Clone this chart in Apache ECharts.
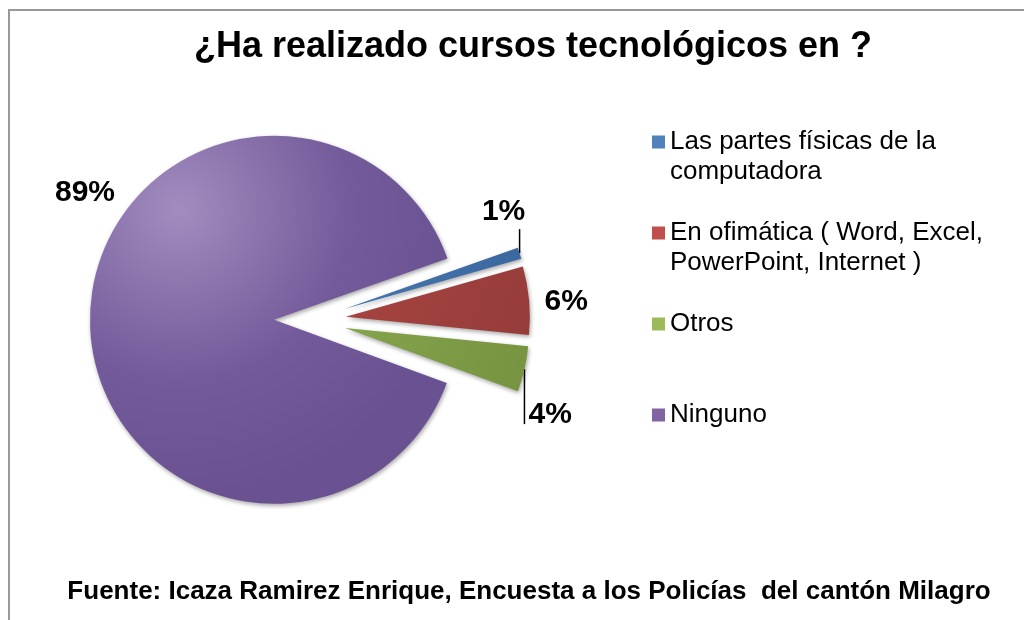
<!DOCTYPE html>
<html>
<head>
<meta charset="utf-8">
<script src="https://cdn.jsdelivr.net/npm/echarts@6/dist/echarts.min.js"></script>
<style>
  html, body { margin: 0; padding: 0; background: #fff; }
  #frame { position: absolute; left: 8px; top: 9px; width: 1100px; height: 700px;
           border-left: 2px solid #999; border-top: 2px solid #999; }
  #chart { position: absolute; left: 0; top: 0; width: 1024px; height: 620px; }
</style>
</head>
<body>
<div id="frame"></div>
<div id="chart"></div>
<script>
// data
const categories = [
  'Las partes físicas de la computadora',
  'En ofimática ( Word, Excel, PowerPoint, Internet )',
  'Otros',
  'Ninguno'
];
const legendLines = [
  ['Las partes físicas de la', 'computadora'],
  ['En ofimática ( Word, Excel,', 'PowerPoint, Internet )'],
  ['Otros'],
  ['Ninguno']
];
const percents = [1, 6, 4, 89];

const baseColors = ['#4F81BD', '#C0504D', '#9BBB59', '#8064A2'];
const sliceColors = [
  ['#4777b2', '#3b669e'],
  ['#a64441', '#963c39'],
  ['#85a44d', '#76933f'],
  ['#a28cbf', '#6a5192']
];

const pieCenter = [310, 320];
const pieRadius = 184;
const explode = 36;
// label placement relative to the exploded slice edge
const labelShift = [[-16, -41], [37, 1], [4, 46], [-5, -126]];
const labelAlign = ['center', 'center', 'left', 'center'];
const guideLen = [-24, 0, 55, 0];

const font = "'Liberation Sans', Arial, sans-serif";
const chart = echarts.init(document.getElementById('chart'));

function sliceColor(i) {
  if (i === 3) {
    return { type: 'radial', x: 0.25, y: 0.2, r: 0.8,
      colorStops: [{ offset: 0, color: sliceColors[i][0] }, { offset: 0.6, color: '#735a9a' }, { offset: 1, color: sliceColors[i][1] }] };
  }
  return { type: 'linear', x: 0, y: 0, x2: 1, y2: 1,
    colorStops: [{ offset: 0, color: sliceColors[i][0] }, { offset: 1, color: sliceColors[i][1] }] };
}

// pad every legend entry to three lines so the square sits on the first line
function legendText(name) {
  const lines = legendLines[categories.indexOf(name)];
  return lines.length > 1 ? ' \n' + lines.join('\n') : ' \n' + lines[0] + '\n ';
}

const option = {
  backgroundColor: 'transparent',
  animation: false,
  title: [
    {
      text: '¿Ha realizado cursos tecnológicos en ?',
      left: 528,
      textAlign: 'center',
      top: 24,
      textStyle: { fontFamily: font, fontSize: 36, fontWeight: 'bold', color: '#000' }
    },
    {
      text: 'Fuente: Icaza Ramirez Enrique, Encuesta a los Policías  del cantón Milagro',
      left: 524,
      textAlign: 'center',
      top: 574,
      textStyle: { fontFamily: font, fontSize: 26, fontWeight: 'bold', color: '#000' }
    }
  ],
  legend: {
    orient: 'vertical',
    left: 647,
    top: 92,
    itemGap: 1,
    itemWidth: 13,
    itemHeight: 13,
    icon: 'rect',
    selectedMode: false,
    data: categories.map((name, i) => ({ name: name, itemStyle: { color: baseColors[i] } })),
    formatter: legendText,
    textStyle: { fontFamily: font, fontSize: 26, lineHeight: 30, color: '#000' }
  },
  series: [
    {
      // the exploded slices
      type: 'pie',
      center: pieCenter,
      radius: pieRadius,
      startAngle: 19.5,
      clockwise: true,
      selectedMode: 'multiple',
      selectedOffset: explode,
      data: categories.map((name, i) => ({
        name: name,
        value: percents[i],
        selected: true,
        itemStyle: { color: sliceColor(i) }
      })),
      itemStyle: {
        shadowBlur: 4,
        shadowOffsetX: 1,
        shadowOffsetY: 2,
        shadowColor: 'rgba(0,0,0,0.35)'
      },
      label: { show: false },
      labelLine: { show: false },
      emphasis: { disabled: true }
    },
    {
      // invisible copy that carries the percentage labels
      type: 'pie',
      center: pieCenter,
      radius: pieRadius,
      startAngle: 19.5,
      clockwise: true,
      silent: true,
      selectedMode: false,
      avoidLabelOverlap: false,
      data: categories.map((name, i) => ({ name: name, value: percents[i] })),
      itemStyle: { color: 'rgba(0,0,0,0)' },
      label: {
        show: true,
        position: 'outside',
        formatter: '{c}%',
        fontFamily: font,
        fontSize: 30,
        fontWeight: 'bold',
        color: '#000'
      },
      labelLine: {
        show: true,
        length: 10,
        length2: 10,
        lineStyle: { color: '#000', width: 1.5 }
      },
      labelLayout: function (p) {
        const i = p.dataIndex;
        const pt = p.labelLinePoints[0];
        const k = (pieRadius + explode) / pieRadius;
        const ex = pieCenter[0] + (pt[0] - pieCenter[0]) * k;
        const ey = pieCenter[1] + (pt[1] - pieCenter[1]) * k;
        return {
          x: ex + labelShift[i][0],
          y: ey + labelShift[i][1],
          align: labelAlign[i],
          verticalAlign: 'middle',
          labelLinePoints: [[ex, ey], [ex, ey + guideLen[i]]]
        };
      },
      emphasis: { disabled: true }
    }
  ]
};

chart.setOption(option);
</script>
</body>
</html>
